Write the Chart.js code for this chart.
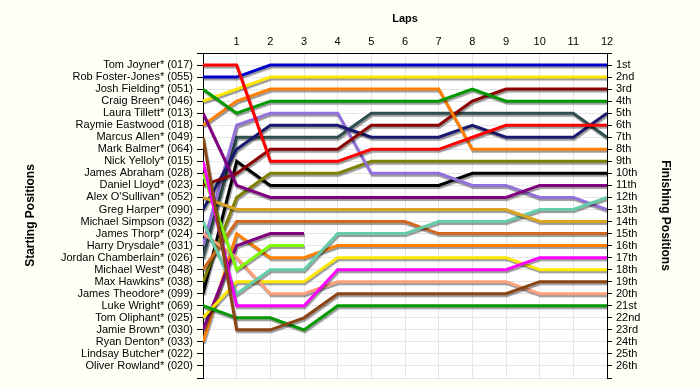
<!DOCTYPE html>
<html>
<head>
<meta charset="utf-8">
<script src="https://cdn.jsdelivr.net/npm/chart.js@4/dist/chart.umd.min.js"></script>
<style>
  html, body { margin: 0; padding: 0; background: #FFFFF5; }
  canvas { display: block; }
</style>
</head>
<body>
<canvas id="lap-chart" width="700" height="390"></canvas>
<script>
// ── Data ───────────────────────────────────────────────────
const startLabels = [
  'Tom Joyner* (017)', 'Rob Foster-Jones* (055)', 'Josh Fielding* (051)', 'Craig Breen* (046)',
  'Laura Tillett* (013)', 'Raymie Eastwood (018)', 'Marcus Allen* (049)', 'Mark Balmer* (064)',
  'Nick Yelloly* (015)', 'James Abraham (028)', 'Daniel Lloyd* (023)', "Alex O'Sullivan* (052)",
  'Greg Harper* (090)', 'Michael Simpson (032)', 'James Thorp* (024)', 'Harry Drysdale* (031)',
  'Jordan Chamberlain* (026)', 'Michael West* (048)', 'Max Hawkins* (038)', 'James Theodore* (099)',
  'Luke Wright* (069)', 'Tom Oliphant* (025)', 'Jamie Brown* (030)', 'Ryan Denton* (033)',
  'Lindsay Butcher* (022)', 'Oliver Rowland* (020)'
];
const finishLabels = [
  '1st', '2nd', '3rd', '4th', '5th', '6th', '7th', '8th', '9th', '10th', '11th', '12th', '13th',
  '14th', '15th', '16th', '17th', '18th', '19th', '20th', '21st', '22nd', '23rd', '24th', '25th', '26th'
];
const laps = [0, 1, 2, 3, 4, 5, 6, 7, 8, 9, 10, 11, 12];

// position at each lap (lap 0 = grid)
const tomJoyner         = [1, 1, 9, 9, 9, 8, 8, 8, 7, 6, 6, 6, 6];
const robFosterJones    = [2, 2, 1, 1, 1, 1, 1, 1, 1, 1, 1, 1, 1];
const joshFielding      = [3, 5, 4, 4, 4, 4, 4, 4, 3, 4, 4, 4, 4];
const craigBreen        = [4, 3, 2, 2, 2, 2, 2, 2, 2, 2, 2, 2, 2];
const lauraTillett      = [5, 11, 12, 12, 12, 12, 12, 12, 12, 12, 11, 11, 11];
const raymieEastwood    = [6, 4, 3, 3, 3, 3, 3, 3, 8, 8, 8, 8, 8];
const marcusAllen       = [7, 23, 23, 22, 20, 20, 20, 20, 20, 20, 19, 19, 19];
const markBalmer        = [8];
const nickYelloly       = [9, 21, 21, 21, 18, 18, 18, 18, 18, 18, 17, 17, 17];
const jamesAbraham      = [10, 18, 16, 16];
const danielLloyd       = [11, 10, 8, 8, 8, 6, 6, 6, 4, 3, 3, 3, 3];
const alexOSullivan     = [12, 13, 13, 13, 13, 13, 13, 13, 13, 13, 14, 14, 14];
const gregHarper        = [13, 8, 6, 6, 6, 7, 7, 7, 6, 7, 7, 7, 5];
const michaelSimpson    = [14, 20, 18, 18, 15, 15, 15, 14, 14, 14, 13, 13, 12];
const jamesThorp        = [15, 17, 20, 20, 19, 19, 19, 19, 19, 19, 20, 20, 20];
const harryDrysdale     = [16, 6, 5, 5, 5, 10, 10, 10, 11, 11, 12, 12, 13];
const jordanChamberlain = [17, 7, 7, 7, 7, 5, 5, 5, 5, 5, 5, 5, 7];
const michaelWest       = [18, 14, 14, 14, 14, 14, 14, 15, 15, 15, 15, 15, 15];
const maxHawkins        = [19, 12, 10, 10, 10, 9, 9, 9, 9, 9, 9, 9, 9];
const jamesTheodore     = [20, 9, 11, 11, 11, 11, 11, 11, 10, 10, 10, 10, 10];
const lukeWright        = [21, 22, 22, 23, 21, 21, 21, 21, 21, 21, 21, 21, 21];
const tomOliphant       = [22, 19, 19, 19, 17, 17, 17, 17, 17, 17, 18, 18, 18];
const jamieBrown        = [23, 16, 15, 15];
const ryanDenton        = [24, 15, 17, 17, 16, 16, 16, 16, 16, 16, 16, 16, 16];
const lindsayButcher    = [25];
const oliverRowland     = [26];

const driverSeries = [
  tomJoyner, robFosterJones, joshFielding, craigBreen, lauraTillett, raymieEastwood,
  marcusAllen, markBalmer, nickYelloly, jamesAbraham, danielLloyd, alexOSullivan,
  gregHarper, michaelSimpson, jamesThorp, harryDrysdale, jordanChamberlain, michaelWest,
  maxHawkins, jamesTheodore, lukeWright, tomOliphant, jamieBrown, ryanDenton,
  lindsayButcher, oliverRowland
];

// ── Styles ─────────────────────────────────────────────────
const lineColours = [
  '#FF0000', '#0000CC', '#009A00', '#FFE800', '#800080', '#FF8000',
  '#8B4513', '#808080', '#FF00FF', '#7CFC00', '#8B0000', '#DAA520',
  '#191970', '#66CDAA', '#FFA07A', '#9370DB', '#2F4F4F', '#D2691E',
  '#808000', '#000000', '#009A00', '#FFE800', '#800080', '#FF8000',
  '#808080', '#808080'
];
const FONT = "'Liberation Sans', Arial, sans-serif";
const gridCol = '#E6E6E6';

const bgPlugin = {
  id: 'bg',
  beforeDraw(chart) {
    const c = chart.ctx, a = chart.chartArea;
    c.save();
    c.fillStyle = '#FFFFF5';
    c.fillRect(0, 0, chart.width, chart.height);
    c.fillStyle = '#FFFFFF';
    c.fillRect(a.left, a.top, a.right - a.left, a.bottom - a.top);
    c.restore();
  }
};

const shadowPlugin = {
  id: 'shadow',
  beforeDatasetsDraw(chart) {
    const c = chart.ctx;
    c.save();
    c.shadowColor = 'rgba(0,0,0,0.4)';
    c.shadowOffsetX = 1;
    c.shadowOffsetY = 2;
    c.shadowBlur = 1;
  },
  afterDatasetsDraw(chart) {
    chart.ctx.restore();
  }
};

new Chart(document.getElementById('lap-chart'), {
  type: 'line',
  data: {
    datasets: driverSeries.map(function(s, i) {
      return {
        label: startLabels[i],
        data: s.map(function(v, lap) { return { x: laps[lap], y: v }; }),
        borderColor: lineColours[i],
        borderWidth: 3,
        pointRadius: 0,
        tension: 0,
        fill: false,
        yAxisID: 'y'
      };
    })
  },
  plugins: [bgPlugin, shadowPlugin],
  options: {
    responsive: false,
    animation: false,
    events: [],
    layout: { padding: { left: 0, right: 0, top: 0, bottom: 12 } },
    plugins: { legend: { display: false }, tooltip: { enabled: false } },
    scales: {
      x: {
        type: 'linear',
        position: 'top',
        min: 0, max: 12,
        afterFit: function(s) { s.height = 53; },
        ticks: {
          stepSize: 1, color: '#000', padding: 4,
          font: { family: FONT, size: 11 },
          callback: function(v) { return v === 0 ? '' : v; }
        },
        grid: { color: gridCol, drawTicks: false },
        border: { color: '#000', width: 1 },
        title: {
          display: true, text: 'Laps', color: '#000',
          font: { family: FONT, size: 11, weight: 'bold' },
          padding: { top: 12, bottom: 0 }
        }
      },
      y: {
        type: 'linear',
        position: 'left',
        reverse: true,
        min: 0, max: 27,
        afterFit: function(s) { s.width = 203; },
        ticks: {
          stepSize: 1, autoSkip: false, color: '#000', padding: 4,
          font: { family: FONT, size: 11 },
          callback: function(v) { return startLabels[v - 1] || ''; }
        },
        grid: { color: gridCol, tickColor: '#000', tickLength: 6 },
        border: { color: '#000', width: 1 },
        title: {
          display: true, text: 'Starting Positions', color: '#000',
          font: { family: FONT, size: 12, weight: 'bold' },
          padding: { top: 23, bottom: 0 }
        }
      },
      y2: {
        type: 'linear',
        position: 'right',
        reverse: true,
        min: 0, max: 27,
        afterFit: function(s) { s.width = 93; },
        ticks: {
          stepSize: 1, autoSkip: false, color: '#000', padding: 4,
          font: { family: FONT, size: 11 },
          callback: function(v) { return finishLabels[v - 1] || ''; }
        },
        grid: { drawOnChartArea: false, tickColor: '#000', tickLength: 5 },
        border: { color: '#000', width: 1 },
        title: {
          display: true, text: 'Finishing Positions', color: '#000',
          font: { family: FONT, size: 12, weight: 'bold' },
          padding: { top: 27, bottom: 0 }
        }
      }
    }
  }
});
</script>
</body>
</html>
